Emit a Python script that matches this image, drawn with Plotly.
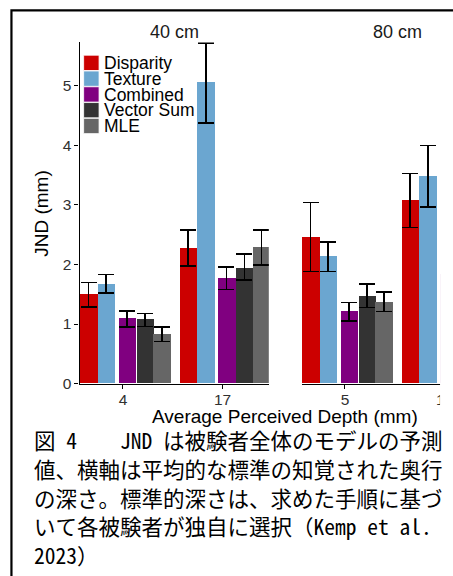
import plotly.graph_objects as go

# ---------------- data ----------------
series = ["Disparity", "Texture", "Combined", "Vector Sum", "MLE"]
colors = ["#CC0000", "#6BA6D0", "#800080", "#333333", "#666666"]

facet_titles = ["40 cm", "80 cm"]
groups_40 = ["4", "17"]
groups_80 = ["5", "17"]

# 40 cm : mean JND, upper CI, lower CI per series (order = groups_40)
jnd_40 = {
    "Disparity":  [1.50, 2.27],
    "Texture":    [1.67, 5.05],
    "Combined":   [1.09, 1.76],
    "Vector Sum": [1.07, 1.94],
    "MLE":        [0.82, 2.29],
}
upper_40 = {
    "Disparity":  [1.70, 2.58],
    "Texture":    [1.83, 5.72],
    "Combined":   [1.22, 1.96],
    "Vector Sum": [1.18, 2.18],
    "MLE":        [0.95, 2.58],
}
lower_40 = {
    "Disparity":  [1.29, 1.97],
    "Texture":    [1.52, 4.38],
    "Combined":   [0.95, 1.58],
    "Vector Sum": [0.96, 1.74],
    "MLE":        [0.71, 1.99],
}

# 80 cm
jnd_80 = {
    "Disparity":  [2.46, 3.07],
    "Texture":    [2.13, 3.48],
    "Combined":   [1.21, 1.83],
    "Vector Sum": [1.47, 2.10],
    "MLE":        [1.37, 2.35],
}
upper_80 = {
    "Disparity":  [3.04, 3.53],
    "Texture":    [2.38, 4.00],
    "Combined":   [1.36, 2.05],
    "Vector Sum": [1.67, 2.35],
    "MLE":        [1.54, 2.65],
}
lower_80 = {
    "Disparity":  [1.88, 2.62],
    "Texture":    [1.88, 2.97],
    "Combined":   [1.05, 1.62],
    "Vector Sum": [1.28, 1.88],
    "MLE":        [1.21, 2.08],
}

y_ticks = [0, 1, 2, 3, 4, 5]
y_title = "JND (mm)"
x_title = "Average Perceived Depth (mm)"

caption_lines = [
    "図 4　　JND は被験者全体のモデルの予測",
    "値、横軸は平均的な標準の知覚された奥行",
    "の深さ。標準的深さは、求めた手順に基づ",
    "いて各被験者が独自に選択（Kemp et al.",
    "2023）",
]

# ---------------- layout helpers ----------------
W, H = 453, 576
def px(x):
    return x / W
def py(y):
    return 1 - y / H

FONT = "Liberation Sans, Arial, Helvetica, sans-serif"
CJK = "Noto Sans Mono CJK JP, Noto Sans CJK JP, sans-serif"

bar_w = 0.175
centers = [-0.345, -0.168, 0.04, 0.22, 0.39]

fig = go.Figure()

def add_facet(groups, vals, ups, lows, xa, ya):
    for i, s in enumerate(series):
        v = vals[s]
        fig.add_trace(go.Bar(
            x=groups, y=v, name=s, xaxis=xa, yaxis=ya,
            width=bar_w, offset=centers[i] - bar_w / 2,
            marker=dict(color=colors[i], line=dict(width=0)),
            showlegend=False,
            error_y=dict(type="data", symmetric=False,
                         array=[u - a for u, a in zip(ups[s], v)],
                         arrayminus=[a - l for a, l in zip(v, lows[s])],
                         color="black", thickness=1.6, width=8),
        ))

add_facet(groups_40, jnd_40, upper_40, lower_40, "x", "y")
add_facet(groups_80, jnd_80, upper_80, lower_80, "x2", "y2")

ydom = [py(389), py(43)]
yrange = [0, 5.73]

axis_common = dict(showgrid=False, zeroline=False, showline=True,
                   linecolor="black", linewidth=1.3, ticks="outside",
                   ticklen=4, tickwidth=1.2, tickcolor="black",
                   tickfont=dict(family=FONT, size=15.5, color="#303030"))

fig.update_layout(
    width=W, height=H,
    margin=dict(l=0, r=0, t=0, b=0),
    paper_bgcolor="white", plot_bgcolor="white",
    bargap=0,
    xaxis=dict(domain=[px(80), px(270)], anchor="y", range=[-0.435, 1.465],
               type="category", ticklabeloverflow="allow",
               ticklabelstandoff=-2, **axis_common),
    xaxis2=dict(domain=[px(303), 1.0], anchor="y2", range=[-0.435, 1.065],
                type="category", ticklabeloverflow="allow",
                ticklabelstandoff=-2, **axis_common),
    yaxis=dict(domain=ydom, anchor="x", range=yrange, tickvals=y_ticks,
               **axis_common),
    yaxis2=dict(domain=ydom, anchor="x2", range=yrange, visible=False,
                showgrid=False, zeroline=False),
)

ann = []
# facet titles
ann.append(dict(text=facet_titles[0], x=px(175), y=py(32)))
ann.append(dict(text=facet_titles[1], x=px(399), y=py(32)))
# axis titles
ann.append(dict(text=y_title, x=px(41), y=py(216), textangle=-90,
                font=dict(family=FONT, size=19, color="black")))
ann.append(dict(text=x_title, x=px(286.5), y=py(422.5),
                font=dict(family=FONT, size=19, color="black")))
for a in ann:
    a.setdefault("font", dict(family=FONT, size=18, color="#1a1a1a"))
    a.update(xref="paper", yref="paper", showarrow=False,
             xanchor="center", yanchor="middle")

shapes = []
# manual legend (ggplot style, inside the first panel)
for i, s in enumerate(series):
    top = 56 + 16 * i
    shapes.append(dict(type="rect", xref="paper", yref="paper",
                       x0=px(84), x1=px(99.5), y0=py(top + 15.5), y1=py(top),
                       fillcolor=colors[i], line=dict(width=0.8, color="white")))
    ann.append(dict(text=s, xref="paper", yref="paper", showarrow=False,
                    x=px(102), y=py(top + 8), xanchor="left", yanchor="middle",
                    font=dict(family=FONT, size=17.5, color="black")))

# the embedded chart image is cropped at x~442: white strip to its right
shapes.append(dict(type="rect", xref="paper", yref="paper", layer="above",
                   x0=px(442), x1=px(470), y0=py(432), y1=py(13),
                   fillcolor="white", line=dict(width=0)))

# caption
cap_y = [446, 475, 504, 533, 562]
for line, yy in zip(caption_lines, cap_y):
    ann.append(dict(text=line, xref="paper", yref="paper", showarrow=False,
                    x=px(32), y=py(yy), xanchor="left", yanchor="middle",
                    font=dict(family=CJK, size=21.5, color="black")))

# outer frame (top and left edge visible)
shapes.append(dict(type="path", xref="paper", yref="paper", layer="above",
                   path=f"M {px(11.5)},{py(600)} L {px(11.5)},{py(10.5)} L {px(470)},{py(10.5)}",
                   line=dict(color="black", width=2.2)))

fig.update_layout(annotations=ann, shapes=shapes)

fig.write_html("out.html", config={"displayModeBar": False},
               post_script="document.body.style.margin='0';document.body.style.overflow='hidden';")
